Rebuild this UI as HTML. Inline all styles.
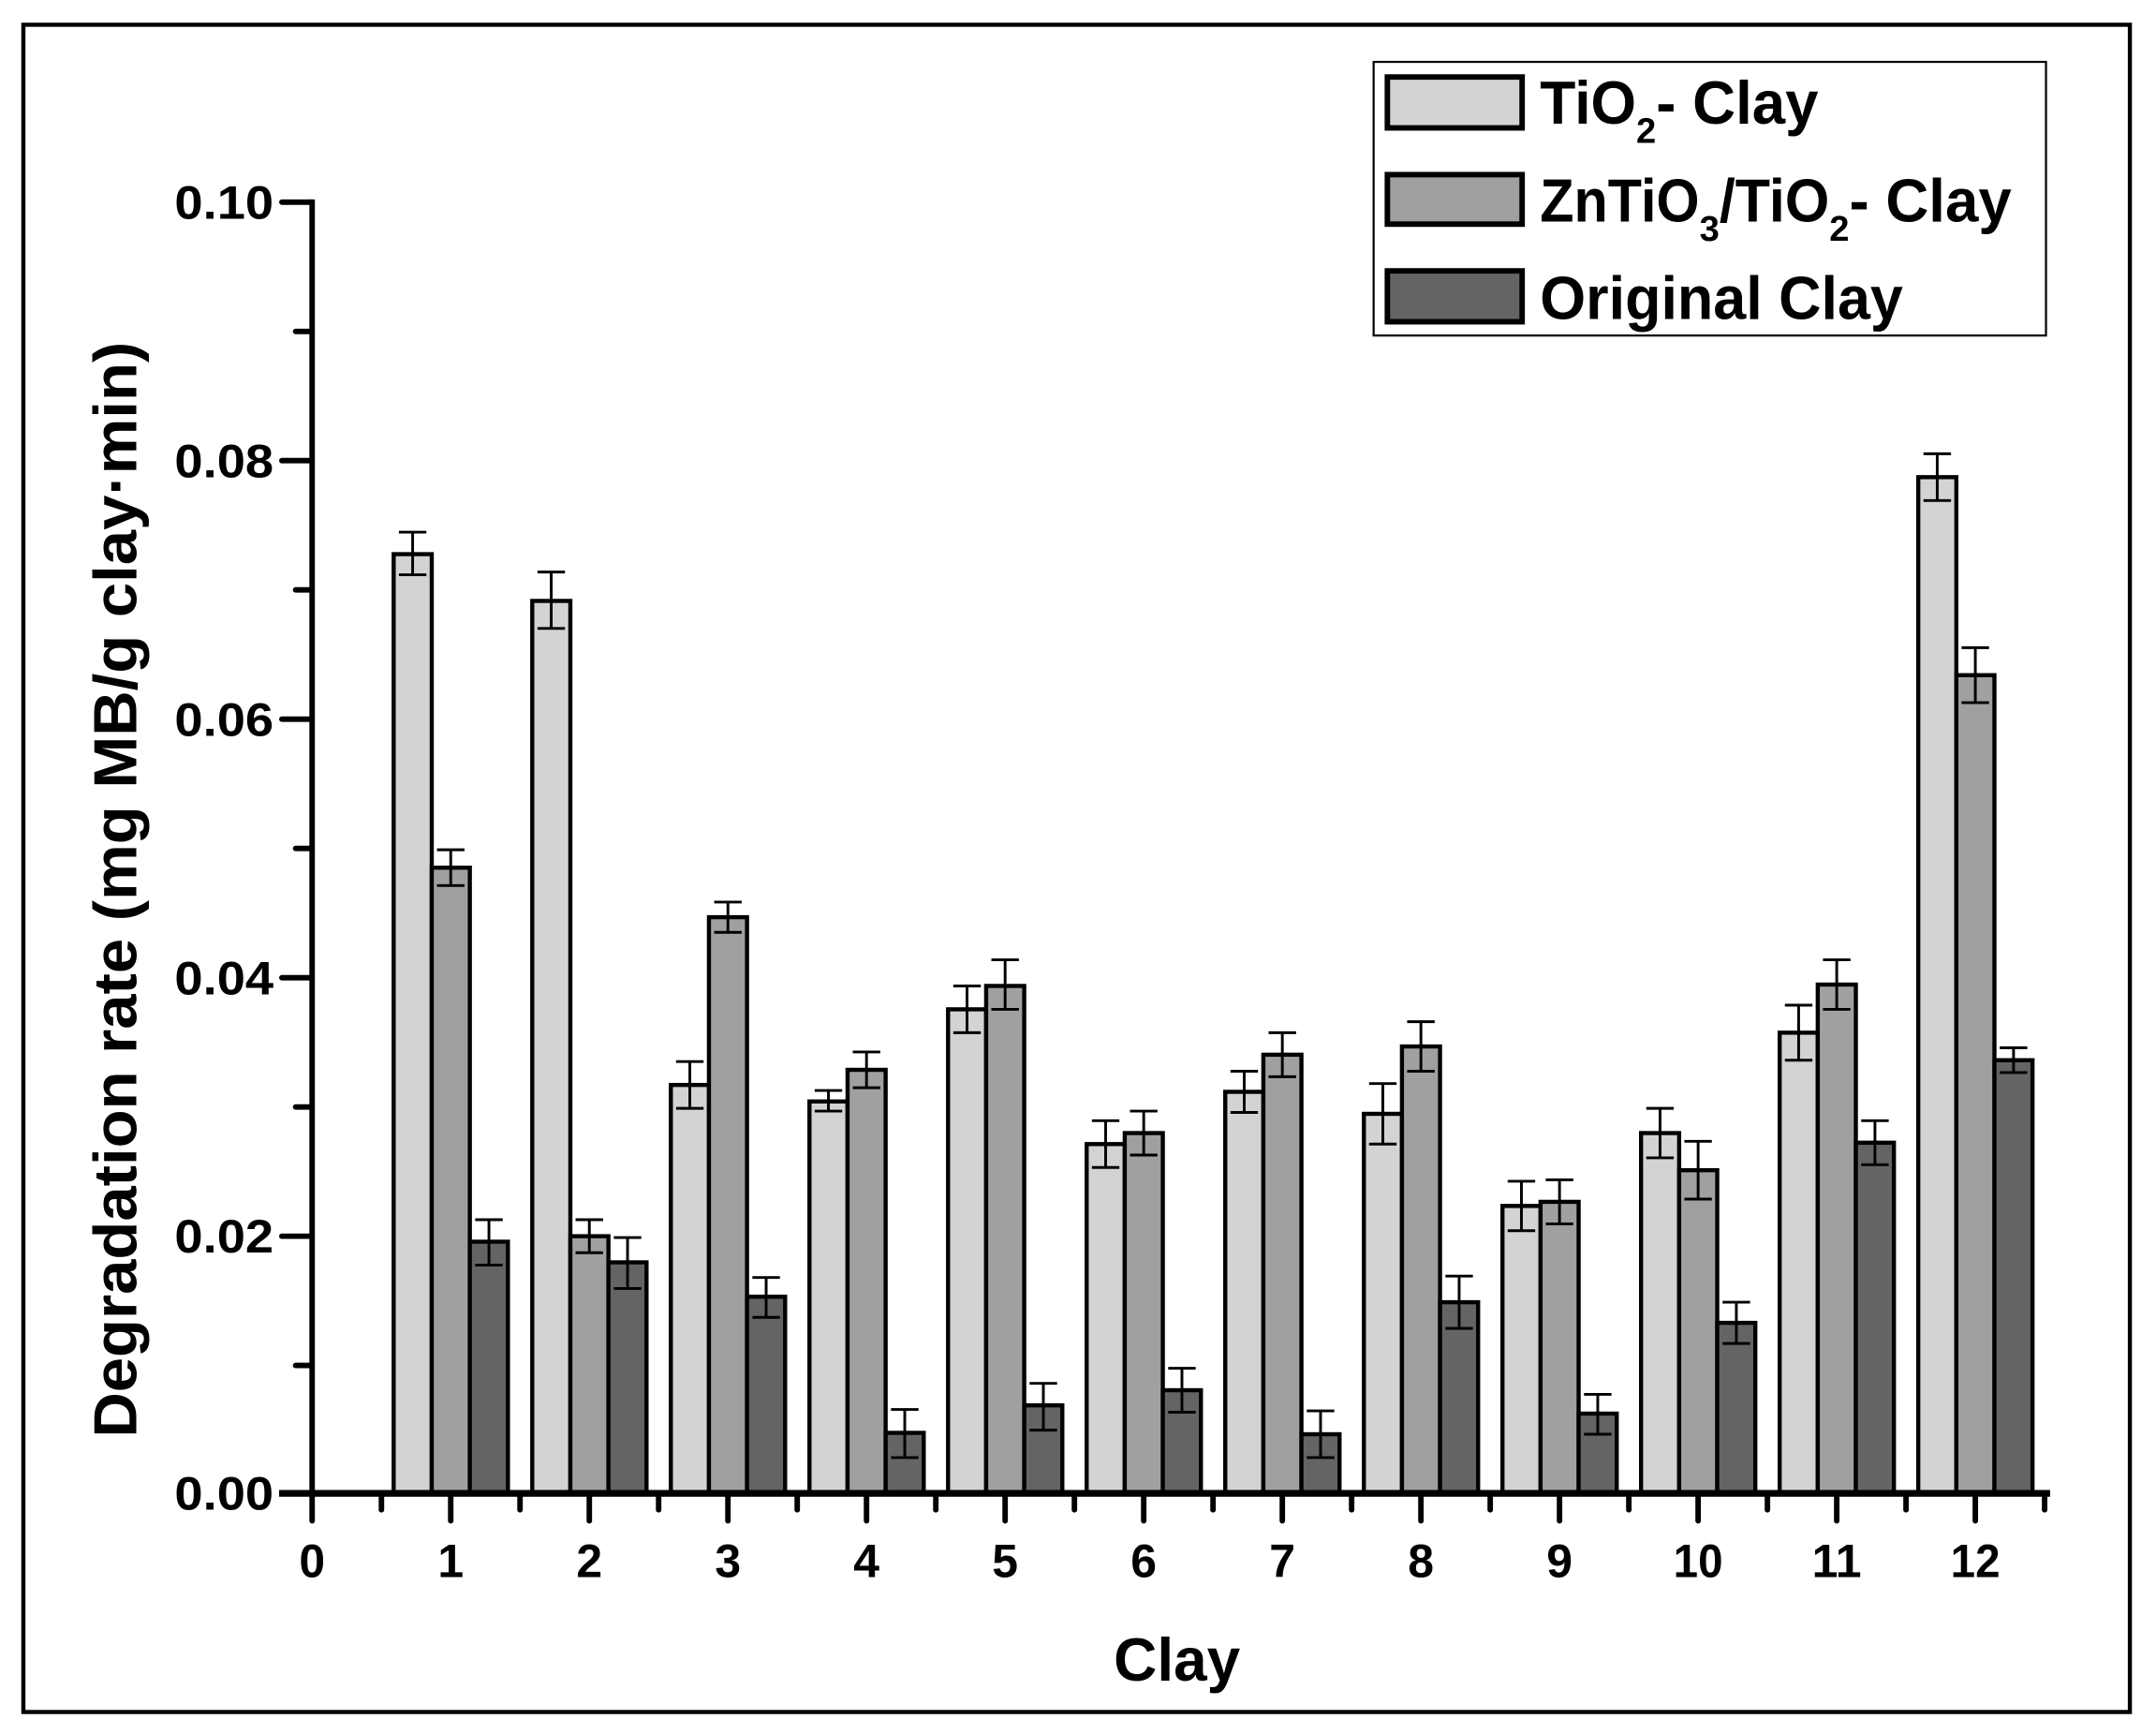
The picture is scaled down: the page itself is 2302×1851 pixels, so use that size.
<!DOCTYPE html>
<html><head><meta charset="utf-8"><style>html,body{margin:0;padding:0;background:#fff}svg{display:block}</style></head>
<body>
<svg width="2302" height="1851" viewBox="0 0 1568 1261" preserveAspectRatio="none" xmlns="http://www.w3.org/2000/svg" font-family="Liberation Sans, Arial, sans-serif" font-weight="bold">
<rect x="17" y="18" width="1532" height="1227" fill="none" stroke="#000" stroke-width="3"/>
<g stroke="#000" stroke-width="3">
<g transform="translate(327.8,0)"><rect x="-41.5" y="403" width="27.7" height="683" fill="#d3d3d3"/><rect x="-13.8" y="631" width="27.7" height="455" fill="#a0a0a0"/><rect x="13.9" y="903" width="27.7" height="183" fill="#646464"/><path stroke-width="2" fill="none" d="M-27.7 387V418M-37.7 387h20M-37.7 418h20M0 618V644M-10 618h20M-10 644h20M27.8 887V920M17.8 887h20M17.8 920h20"/></g>
<g transform="translate(428.6,0)"><rect x="-41.5" y="437" width="27.7" height="649" fill="#d3d3d3"/><rect x="-13.8" y="899" width="27.7" height="187" fill="#a0a0a0"/><rect x="13.9" y="918" width="27.7" height="168" fill="#646464"/><path stroke-width="2" fill="none" d="M-27.7 416V457M-37.7 416h20M-37.7 457h20M0 887V911M-10 887h20M-10 911h20M27.8 900V937M17.8 900h20M17.8 937h20"/></g>
<g transform="translate(529.4,0)"><rect x="-41.5" y="789" width="27.7" height="297" fill="#d3d3d3"/><rect x="-13.8" y="667" width="27.7" height="419" fill="#a0a0a0"/><rect x="13.9" y="943" width="27.7" height="143" fill="#646464"/><path stroke-width="2" fill="none" d="M-27.7 772V806M-37.7 772h20M-37.7 806h20M0 656V678M-10 656h20M-10 678h20M27.8 929V958M17.8 929h20M17.8 958h20"/></g>
<g transform="translate(630.2,0)"><rect x="-41.5" y="801" width="27.7" height="285" fill="#d3d3d3"/><rect x="-13.8" y="778" width="27.7" height="308" fill="#a0a0a0"/><rect x="13.9" y="1042" width="27.7" height="44" fill="#646464"/><path stroke-width="2" fill="none" d="M-27.7 793V808M-37.7 793h20M-37.7 808h20M0 765V791M-10 765h20M-10 791h20M27.8 1025V1060M17.8 1025h20M17.8 1060h20"/></g>
<g transform="translate(731,0)"><rect x="-41.5" y="734" width="27.7" height="352" fill="#d3d3d3"/><rect x="-13.8" y="717" width="27.7" height="369" fill="#a0a0a0"/><rect x="13.9" y="1022" width="27.7" height="64" fill="#646464"/><path stroke-width="2" fill="none" d="M-27.7 717V751M-37.7 717h20M-37.7 751h20M0 698V734M-10 698h20M-10 734h20M27.8 1006V1040M17.8 1006h20M17.8 1040h20"/></g>
<g transform="translate(831.8,0)"><rect x="-41.5" y="832" width="27.7" height="254" fill="#d3d3d3"/><rect x="-13.8" y="824" width="27.7" height="262" fill="#a0a0a0"/><rect x="13.9" y="1011" width="27.7" height="75" fill="#646464"/><path stroke-width="2" fill="none" d="M-27.7 815V849M-37.7 815h20M-37.7 849h20M0 808V840M-10 808h20M-10 840h20M27.8 995V1027M17.8 995h20M17.8 1027h20"/></g>
<g transform="translate(932.6,0)"><rect x="-41.5" y="794" width="27.7" height="292" fill="#d3d3d3"/><rect x="-13.8" y="767" width="27.7" height="319" fill="#a0a0a0"/><rect x="13.9" y="1043" width="27.7" height="43" fill="#646464"/><path stroke-width="2" fill="none" d="M-27.7 779V809M-37.7 779h20M-37.7 809h20M0 751V783M-10 751h20M-10 783h20M27.8 1026V1060M17.8 1026h20M17.8 1060h20"/></g>
<g transform="translate(1033.4,0)"><rect x="-41.5" y="810" width="27.7" height="276" fill="#d3d3d3"/><rect x="-13.8" y="761" width="27.7" height="325" fill="#a0a0a0"/><rect x="13.9" y="947" width="27.7" height="139" fill="#646464"/><path stroke-width="2" fill="none" d="M-27.7 788V832M-37.7 788h20M-37.7 832h20M0 743V779M-10 743h20M-10 779h20M27.8 928V966M17.8 928h20M17.8 966h20"/></g>
<g transform="translate(1134.2,0)"><rect x="-41.5" y="877" width="27.7" height="209" fill="#d3d3d3"/><rect x="-13.8" y="874" width="27.7" height="212" fill="#a0a0a0"/><rect x="13.9" y="1028" width="27.7" height="58" fill="#646464"/><path stroke-width="2" fill="none" d="M-27.7 859V895M-37.7 859h20M-37.7 895h20M0 858V890M-10 858h20M-10 890h20M27.8 1014V1043M17.8 1014h20M17.8 1043h20"/></g>
<g transform="translate(1235,0)"><rect x="-41.5" y="824" width="27.7" height="262" fill="#d3d3d3"/><rect x="-13.8" y="851" width="27.7" height="235" fill="#a0a0a0"/><rect x="13.9" y="962" width="27.7" height="124" fill="#646464"/><path stroke-width="2" fill="none" d="M-27.7 806V842M-37.7 806h20M-37.7 842h20M0 830V872M-10 830h20M-10 872h20M27.8 947V977M17.8 947h20M17.8 977h20"/></g>
<g transform="translate(1335.8,0)"><rect x="-41.5" y="751" width="27.7" height="335" fill="#d3d3d3"/><rect x="-13.8" y="716" width="27.7" height="370" fill="#a0a0a0"/><rect x="13.9" y="831" width="27.7" height="255" fill="#646464"/><path stroke-width="2" fill="none" d="M-27.7 731V771M-37.7 731h20M-37.7 771h20M0 698V734M-10 698h20M-10 734h20M27.8 815V847M17.8 815h20M17.8 847h20"/></g>
<g transform="translate(1436.6,0)"><rect x="-41.5" y="347" width="27.7" height="739" fill="#d3d3d3"/><rect x="-13.8" y="491" width="27.7" height="595" fill="#a0a0a0"/><rect x="13.9" y="771" width="27.7" height="315" fill="#646464"/><path stroke-width="2" fill="none" d="M-27.7 330V364M-37.7 330h20M-37.7 364h20M0 471V511M-10 471h20M-10 511h20M27.8 762V780M17.8 762h20M17.8 780h20"/></g>
</g>
<line x1="227" y1="145" x2="227" y2="1088" stroke="#000" stroke-width="4"/>
<line x1="203" y1="1086" x2="1491" y2="1086" stroke="#000" stroke-width="5"/>
<g stroke="#000" stroke-width="4" stroke-linecap="round">
<line x1="205" y1="147" x2="227" y2="147"/><line x1="205" y1="335" x2="227" y2="335"/><line x1="205" y1="523" x2="227" y2="523"/><line x1="205" y1="711" x2="227" y2="711"/><line x1="205" y1="899" x2="227" y2="899"/>
<line x1="215" y1="241" x2="227" y2="241"/><line x1="215" y1="429" x2="227" y2="429"/><line x1="215" y1="617" x2="227" y2="617"/><line x1="215" y1="805" x2="227" y2="805"/><line x1="215" y1="993" x2="227" y2="993"/>
<path fill="none" d="M227 1086V1106M327.8 1086V1106M428.6 1086V1106M529.4 1086V1106M630.2 1086V1106M731 1086V1106M831.8 1086V1106M932.6 1086V1106M1033.4 1086V1106M1134.2 1086V1106M1235 1086V1106M1335.8 1086V1106M1436.6 1086V1106M277.4 1086V1098M378.2 1086V1098M479 1086V1098M579.8 1086V1098M680.6 1086V1098M781.4 1086V1098M882.2 1086V1098M983 1086V1098M1083.8 1086V1098M1184.6 1086V1098M1285.4 1086V1098M1386.2 1086V1098M1487 1086V1098"/>
</g>
<g font-size="34" text-anchor="end">
<text x="199" y="159" textLength="72" lengthAdjust="spacingAndGlyphs">0.10</text>
<text x="199" y="347" textLength="72" lengthAdjust="spacingAndGlyphs">0.08</text>
<text x="199" y="535" textLength="72" lengthAdjust="spacingAndGlyphs">0.06</text>
<text x="199" y="723" textLength="72" lengthAdjust="spacingAndGlyphs">0.04</text>
<text x="199" y="911" textLength="72" lengthAdjust="spacingAndGlyphs">0.02</text>
<text x="199" y="1098" textLength="72" lengthAdjust="spacingAndGlyphs">0.00</text>
</g>
<g font-size="34" text-anchor="middle">
<text x="227" y="1147">0</text><text x="327.8" y="1147">1</text><text x="428.6" y="1147">2</text><text x="529.4" y="1147">3</text><text x="630.2" y="1147">4</text><text x="731" y="1147">5</text><text x="831.8" y="1147">6</text><text x="932.6" y="1147">7</text><text x="1033.4" y="1147">8</text><text x="1134.2" y="1147">9</text><text x="1235" y="1147" textLength="36" lengthAdjust="spacingAndGlyphs">10</text><text x="1335.8" y="1147" textLength="36" lengthAdjust="spacingAndGlyphs">11</text><text x="1436.6" y="1147" textLength="36" lengthAdjust="spacingAndGlyphs">12</text>
</g>
<text x="856" y="1222" font-size="44" text-anchor="middle" textLength="92" lengthAdjust="spacingAndGlyphs">Clay</text>
<text transform="translate(99,647) rotate(-90)" font-size="44" text-anchor="middle" textLength="797" lengthAdjust="spacingAndGlyphs">Degradation rate (mg MB/g clay·min)</text>
<rect x="999" y="45" width="489" height="199" fill="#fff" stroke="#000" stroke-width="1.5"/>
<rect x="1009" y="56" width="98" height="37" fill="#d3d3d3" stroke="#000" stroke-width="4"/>
<rect x="1009" y="127" width="98" height="36" fill="#a0a0a0" stroke="#000" stroke-width="4"/>
<rect x="1009" y="197" width="98" height="37" fill="#646464" stroke="#000" stroke-width="4"/>
<g font-size="44">
<text x="1120" y="90"><tspan textLength="70" lengthAdjust="spacingAndGlyphs">TiO</tspan><tspan font-size="26" dy="14">2</tspan><tspan dy="-14" textLength="118" lengthAdjust="spacingAndGlyphs">- Clay</tspan></text>
<text x="1120" y="161"><tspan textLength="116" lengthAdjust="spacingAndGlyphs">ZnTiO</tspan><tspan font-size="26" dy="14">3</tspan><tspan dy="-14" textLength="80" lengthAdjust="spacingAndGlyphs">/TiO</tspan><tspan font-size="26" dy="14">2</tspan><tspan dy="-14" textLength="118" lengthAdjust="spacingAndGlyphs">- Clay</tspan></text>
<text x="1120" y="232" textLength="264" lengthAdjust="spacingAndGlyphs">Original Clay</text>
</g>
</svg>
</body></html>
